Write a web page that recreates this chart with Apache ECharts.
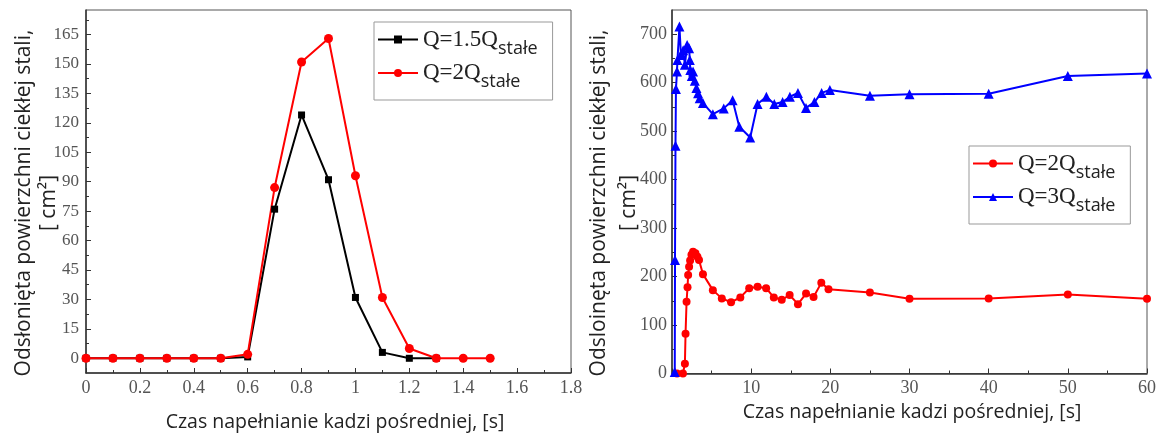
<!DOCTYPE html>
<html><head><meta charset="utf-8">
<script src="https://cdn.jsdelivr.net/npm/echarts@6/dist/echarts.min.js"></script>
<style>html,body{margin:0;padding:0;background:#fff}#c{width:1159px;height:436px}</style>
</head><body><div id="c"></div>
<script>
// ---------- data: left chart ----------
const leftTimeQ15 = [0,0.1,0.2,0.3,0.4,0.5,0.6,0.7,0.8,0.9,1.0,1.1,1.2,1.3];
const leftQ15     = [0,0,0,0,0,0,0.7,76,124,91,31,3,0,0];
const leftTimeQ2  = [0,0.1,0.2,0.3,0.4,0.5,0.6,0.7,0.8,0.9,1.0,1.1,1.2,1.3,1.4,1.5];
const leftQ2      = [0,0,0,0,0,0,2,87,151,163,93,31,5,0,0,0];
const leftYLabels = [0,15,30,45,60,75,90,105,120,135,150,165];
const leftYMinor  = [7.5,22.5,37.5,52.5,67.5,82.5,97.5,112.5,127.5,142.5,157.5,172.5];

// ---------- data: right chart ----------
const rightTimeQ2 = [0.63,1.38,1.63,1.71,1.84,1.96,2.04,2.16,2.29,2.46,2.66,2.96,3.21,3.41,3.91,5.16,6.29,7.46,8.63,9.75,10.81,11.89,12.86,13.86,14.86,15.91,16.93,17.88,18.86,19.77,25,30,40,50,60];
const rightQ2     = [0,0,20,82,148,178,203,220,233,245,251,248,241,234,205,172,155,147,157,176,179,176,157,152,162,143,165,158,187,174,167,154,155,163,154];
const rightTimeQ3 = [0.35,0.38,0.44,0.5,0.63,0.69,0.94,1.13,1.41,1.63,1.91,2.16,2.25,2.31,2.5,2.66,2.88,3.09,3.29,3.5,3.91,5.16,6.54,7.66,8.5,9.88,10.81,11.92,12.92,13.97,14.89,15.91,16.93,17.99,18.9,19.94,25,30,40,50,60];
const rightQ3     = [3,234,470,587,623,647,716,657,667,637,678,671,647,626,614,623,604,589,578,568,558,535,547,564,509,487,556,571,556,560,571,579,548,560,579,585,573,576,577,614,619];
const rightYLabels = [0,100,200,300,400,500,600,700];
const rightYMinor  = [50,150,250,350,450,550,650];

const NAME_15 = 'Q=1.5Q|stałe', NAME_2 = 'Q=2Q|stałe', NAME_3 = 'Q=3Q|stałe';
const yTitle1 = 'Odsłonięta powierzchni ciekłej stali,\n[ cm²]';
const yTitle2 = 'Odsloinęta powierzchni ciekłej stali,\n[ cm²]';
const xTitle = 'Czas napełnianie kadzi pośredniej, [s]';

const zip = (a, b) => a.map((t, i) => [t, b[i]]);

const AXC = '#333';
const labelFont = {fontFamily: 'Liberation Serif', color: '#555'};
const titleFont = 'Open Sans';

function legendCfg(left, top, names) {
  return {
    orient: 'vertical', left: left, top: top, data: names,
    itemWidth: 40, itemHeight: 10, itemGap: 4,
    padding: [6, 15, 9, 3],
    borderColor: '#999', borderWidth: 1, backgroundColor: '#fff',
    formatter: n => { const p = n.split('|'); return '{a|' + p[0] + '}{b|' + p[1] + '}'; },
    textStyle: { rich: {
      a: {fontFamily: 'Liberation Serif', fontSize: 23, color: '#222', lineHeight: 36},
      b: {fontFamily: titleFont, fontSize: 18, color: '#222', padding: [18, 0, 0, 0]}
    }}
  };
}

const option = {
  animation: false,
  backgroundColor: '#fff',
  grid: [
    {left: 86, top: 10, width: 485, height: 363, show: true, borderColor: '#555', borderWidth: 1, backgroundColor: 'transparent'},
    {left: 672, top: 10, width: 478, height: 363.5, show: true, borderColor: '#555', borderWidth: 1, backgroundColor: 'transparent'}
  ],
  xAxis: [
    {type: 'value', gridIndex: 0, min: 0, max: 1.8, interval: 0.2,
     axisLine: {onZero: false, lineStyle: {color: AXC, width: 1.5}},
     axisTick: {inside: true, length: 5, lineStyle: {color: AXC}},
     minorTick: {show: true, splitNumber: 2, length: 3, lineStyle: {color: AXC}},
     splitLine: {show: false},
     axisLabel: Object.assign({fontSize: 18, margin: 6}, labelFont)},
    {type: 'value', gridIndex: 1, min: 0, max: 60, interval: 10,
     axisLine: {onZero: false, lineStyle: {color: AXC, width: 1.5}},
     axisTick: {inside: true, length: 5, lineStyle: {color: AXC}},
     minorTick: {show: true, splitNumber: 2, length: 3, lineStyle: {color: AXC}},
     splitLine: {show: false},
     axisLabel: Object.assign({fontSize: 18, margin: 6, showMinLabel: false}, labelFont)}
  ],
  yAxis: [
    {type: 'value', gridIndex: 0, min: -7.5, max: 177.5,
     axisLine: {onZero: false, lineStyle: {color: AXC, width: 1.5}},
     axisTick: {inside: true, length: 5, customValues: leftYLabels, lineStyle: {color: AXC}},
     splitLine: {show: false},
     axisLabel: Object.assign({fontSize: 17, margin: 7, customValues: leftYLabels}, labelFont)},
    {type: 'value', gridIndex: 0, min: -7.5, max: 177.5, position: 'left',
     axisLine: {show: false}, axisLabel: {show: false}, splitLine: {show: false},
     axisTick: {inside: true, length: 3, customValues: leftYMinor, lineStyle: {color: AXC}}},
    {type: 'value', gridIndex: 1, min: 0, max: 750,
     axisLine: {onZero: false, lineStyle: {color: AXC, width: 1.5}},
     axisTick: {inside: true, length: 5, customValues: rightYLabels, lineStyle: {color: AXC}},
     splitLine: {show: false},
     axisLabel: Object.assign({fontSize: 18, margin: 5, customValues: rightYLabels}, labelFont)},
    {type: 'value', gridIndex: 1, min: 0, max: 750, position: 'left',
     axisLine: {show: false}, axisLabel: {show: false}, splitLine: {show: false},
     axisTick: {inside: true, length: 3, customValues: rightYMinor, lineStyle: {color: AXC}}}
  ],
  legend: [
    legendCfg(374, 22, [NAME_15, NAME_2]),
    legendCfg(969, 146, [NAME_2, NAME_3])
  ],
  series: [
    {name: NAME_15, type: 'line', xAxisIndex: 0, yAxisIndex: 0, data: zip(leftTimeQ15, leftQ15),
     symbol: 'rect', symbolSize: 7, color: '#000', lineStyle: {width: 2, color: '#000'}, itemStyle: {color: '#000'}},
    {name: NAME_2, type: 'line', xAxisIndex: 0, yAxisIndex: 0, data: zip(leftTimeQ2, leftQ2),
     symbol: 'circle', symbolSize: 9, color: '#ff0000', lineStyle: {width: 2, color: '#ff0000'}, itemStyle: {color: '#ff0000'}},
    {name: NAME_2, type: 'line', xAxisIndex: 1, yAxisIndex: 2, data: zip(rightTimeQ2, rightQ2),
     symbol: 'circle', symbolSize: 8, color: '#ff0000', lineStyle: {width: 2, color: '#ff0000'}, itemStyle: {color: '#ff0000'}},
    {name: NAME_3, type: 'line', xAxisIndex: 1, yAxisIndex: 2, data: zip(rightTimeQ3, rightQ3),
     symbol: 'triangle', symbolSize: 10, color: '#0000ff', lineStyle: {width: 2, color: '#0000ff'}, itemStyle: {color: '#0000ff'}}
  ],
  graphic: [
    {type: 'text', x: 37, y: 203, rotation: Math.PI / 2,
     style: {text: yTitle1, fontFamily: titleFont, fontSize: 21, lineHeight: 25, fill: '#222', align: 'center', verticalAlign: 'middle'}},
    {type: 'text', x: 614, y: 203, rotation: Math.PI / 2,
     style: {text: yTitle2, fontFamily: titleFont, fontSize: 21, lineHeight: 30, fill: '#222', align: 'center', verticalAlign: 'middle'}},
    {type: 'text', x: 335, y: 422,
     style: {text: xTitle, fontFamily: titleFont, fontSize: 19.5, fill: '#222', align: 'center', verticalAlign: 'middle'}},
    {type: 'text', x: 912, y: 412,
     style: {text: xTitle, fontFamily: titleFont, fontSize: 19.5, fill: '#222', align: 'center', verticalAlign: 'middle'}}
  ]
};

const chart = echarts.init(document.getElementById('c'), null, {renderer: 'canvas'});
chart.setOption(option);
</script>
</body></html>
